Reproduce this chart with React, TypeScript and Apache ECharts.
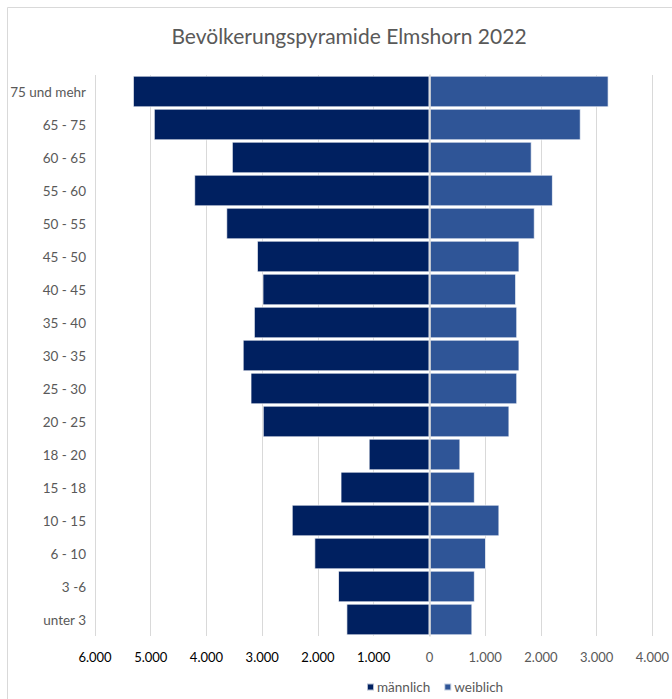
import React, { useEffect, useRef } from "react";
import * as echarts from "echarts";

const categories = [
  "unter 3", "3 -6", "6 - 10", "10 - 15", "15 - 18", "18 - 20", "20 - 25",
  "25 - 30", "30 - 35", "35 - 40", "40 - 45", "45 - 50", "50 - 55",
  "55 - 60", "60 - 65", "65 - 75", "75 und mehr",
];
const maleValues = [1490, 1640, 2065, 2470, 1595, 1090, 2990, 3210, 3350, 3150, 2995, 3095, 3645, 4220, 3545, 4945, 5320];
const femaleValues = [770, 815, 1015, 1255, 815, 555, 1435, 1575, 1615, 1575, 1555, 1615, 1890, 2215, 1835, 2715, 3215];
const titleText = "Bevölkerungspyramide Elmshorn 2022";
const seriesNames = ["männlich", "weiblich"];

const fmt = (v: number) =>
  Math.abs(v).toString().replace(/\B(?=(\d{3})+(?!\d))/g, ".");

export default function App() {
  const ref = useRef<HTMLDivElement>(null);
  useEffect(() => {
    document.body.style.margin = "0";
    const chart = echarts.init(ref.current!, null, { renderer: "svg" });
    const font = "Lato, 'Open Sans', sans-serif";
    chart.setOption({
      animation: false,
      textStyle: { fontFamily: font },
      title: {
        text: titleText,
        left: 344,
        textAlign: "center",
        top: 20,
        textStyle: { fontSize: 21, fontWeight: "normal", color: "#595959", fontFamily: font },
      },
      graphic: [
        {
          type: "rect",
          shape: { x: 7.5, y: 7.5, width: 720, height: 720 },
          style: { fill: "none", stroke: "#d9d9d9", lineWidth: 1 },
          silent: true,
        },
      ],
      legend: {
        data: seriesNames,
        left: 364,
        top: 678,
        padding: 2,
        itemWidth: 7,
        itemHeight: 7,
        itemGap: 13,
        icon: "rect",
        textStyle: { fontSize: 13.5, color: "#595959", fontFamily: font, padding: [0, 0, 0, -2] },
      },
      grid: { left: 95, right: 17, top: 75, bottom: 63 },
      xAxis: {
        type: "value",
        min: -6000,
        max: 4000,
        interval: 1000,
        axisLine: { show: false },
        axisTick: { show: false },
        splitLine: { show: true, lineStyle: { color: "#d9d9d9", width: 1 } },
        axisLabel: {
          margin: 14,
          fontSize: 13,
          fontFamily: font,
          formatter: (v: number) => (v < 0 ? "{n|" + fmt(v) + "}" : "{p|" + fmt(v) + "}"),
          rich: {
            n: { color: "#000000", fontSize: 13, fontFamily: font },
            p: { color: "#595959", fontSize: 13, fontFamily: font },
          },
        },
      },
      yAxis: [
        {
          type: "category",
          data: categories,
          z: 5,
          axisLine: { show: true, onZero: true, lineStyle: { color: "#d9d9d9", width: 1.5 } },
          axisTick: { show: false },
          axisLabel: { show: false },
        },
        {
          type: "category",
          data: categories,
          position: "left",
          axisLine: { show: false, onZero: false },
          axisTick: { show: false },
          axisLabel: { fontSize: 13.5, color: "#595959", fontFamily: font, margin: 9 },
        },
      ],
      series: [
        {
          name: seriesNames[0],
          type: "bar",
          stack: "total",
          yAxisIndex: 0,
          barCategoryGap: "4%",
          data: maleValues.map((v) => -v),
          itemStyle: { color: "#002060", borderColor: "rgba(255,255,255,0.7)", borderWidth: 1 },
        },
        {
          name: seriesNames[1],
          type: "bar",
          stack: "total",
          yAxisIndex: 0,
          barCategoryGap: "4%",
          data: femaleValues,
          itemStyle: { color: "#2F5597", borderColor: "rgba(255,255,255,0.7)", borderWidth: 1 },
        },
      ],
    });
    return () => chart.dispose();
  }, []);
  return <div ref={ref} style={{ width: 672, height: 699 }} />;
}
